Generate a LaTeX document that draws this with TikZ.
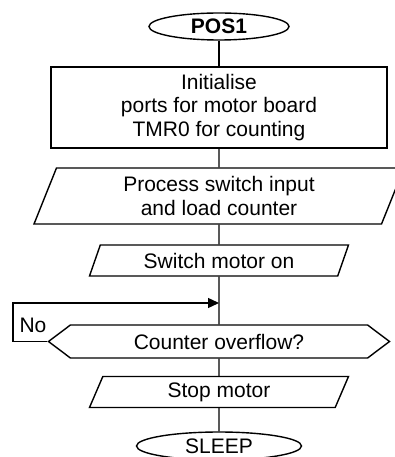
\documentclass[tikz,border=0pt]{standalone}
\usepackage{fontspec}
\setmainfont{Liberation Sans}
\usetikzlibrary{shapes.geometric, shapes.symbols}
\usetikzlibrary{arrows.meta}

\begin{document}
\begin{tikzpicture}[x=1pt, y=-1pt, line width=1.4pt, >={Triangle[length=11pt,width=10pt]},
	font=\fontsize{21}{23.5}\selectfont,
	terminal/.style={draw, ellipse, inner sep=0pt},
	process/.style={draw, rectangle, align=center, inner sep=0pt},
	inout/.style={draw, trapezium, trapezium stretches body, align=center, inner sep=0pt},
	decision/.style={draw, signal, signal to=west and east, inner sep=0pt}]

	\useasboundingbox (0,0) rectangle (395,457);

	\node[terminal, minimum width=140pt, minimum height=27pt] (pos1) at (219,26.5) {\textbf{POS1}};
	\node[process, minimum width=336pt, minimum height=81pt] (init) at (219,107.5)
		{Initialise\\ports for motor board\\TMR0 for counting};

	\node[inout, trapezium left angle=60, trapezium right angle=120, minimum width=370pt, minimum height=56pt]
		(proc) at (219,196) {Process switch input\\and load counter};
	\node[inout, trapezium left angle=55, trapezium right angle=125, minimum width=259pt, minimum height=31pt]
		(swon) at (219,260.5) {Switch motor on};

	% %%%% loop
	\node[decision, signal pointer angle=74, minimum width=341pt, minimum height=33pt]
		(ovfl) at (219,341.5) {Counter overflow?};
	\node (no) at (33,325) {No};

	\node[inout, trapezium left angle=55, trapezium right angle=125, minimum width=259pt, minimum height=31pt]
		(stop) at (219,392) {Stop motor};
	\node[terminal, minimum width=165pt, minimum height=28pt] (sleep) at (219,446) {SLEEP};

	\coordinate (loopbot) at (13,341.5);
	\coordinate (looptop) at (13,303);
	\coordinate (join) at (219,303);

	\draw (pos1) -- (init);
	\draw (init) -- (proc);
	\draw (proc) -- (swon);
	\draw (swon) -- (ovfl);
	\draw (ovfl) -- (stop);
	\draw (stop) -- (sleep);
	\draw[->] (ovfl.west) -- (loopbot) -- (looptop) -- (join);

\end{tikzpicture}
\end{document}
